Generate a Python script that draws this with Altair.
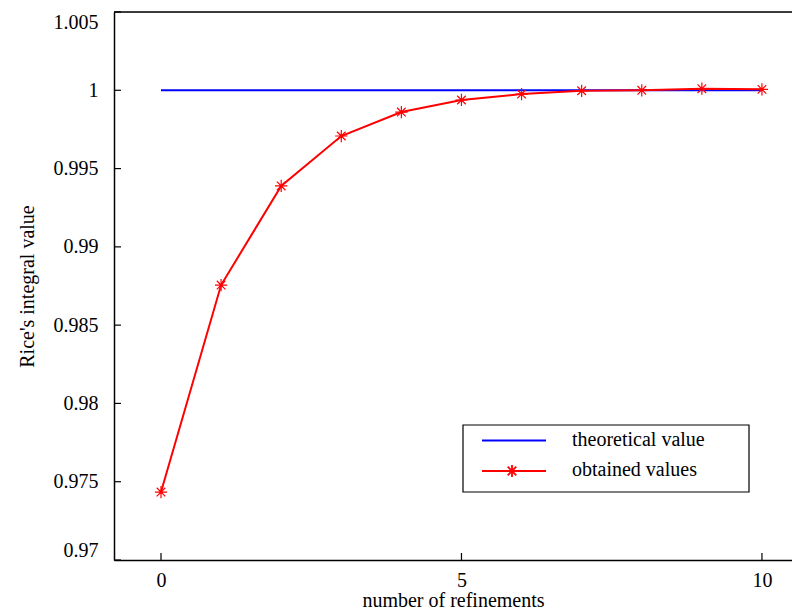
import altair as alt
import pandas as pd

# data
refinements = [0, 1, 2, 3, 4, 5, 6, 7, 8, 9, 10]
obtained = [0.97434, 0.98756, 0.99389, 0.99708, 0.99861, 0.99938, 0.99976, 0.99997, 1.00000, 1.00010, 1.00006]
theoretical = [1.0] * len(refinements)
series_names = ["theoretical value", "obtained values"]
x_ticks = [0, 5, 10]
y_ticks = [0.97, 0.975, 0.98, 0.985, 0.99, 0.995, 1.0, 1.005]

FONT = "Liberation Serif"
W, H = 678, 548
XDOM = [-0.782, 10.5]
YDOM = [0.97, 1.005]

df_obt = pd.DataFrame({"n": refinements, "v": obtained})
df_the = pd.DataFrame({"n": refinements, "v": theoretical})
df_xt = pd.DataFrame({"t": x_ticks})
df_yt = pd.DataFrame({"t": y_ticks})

STAR = "M-1,0L1,0M0,-1L0,1M-0.7,-0.7L0.7,0.7M-0.7,0.7L0.7,-0.7"

xs = alt.Scale(domain=XDOM, nice=False, zero=False)
ys = alt.Scale(domain=YDOM, nice=False, zero=False)

x_axis = alt.Axis(values=x_ticks, format="~g", tickSize=0, labelPadding=10,
                  labelFlush=False, domainColor="black",
                  domainWidth=1.5, grid=False, titlePadding=0, labelFont=FONT,
                  titleFont=FONT, labelFontSize=20, titleFontSize=20,
                  titleFontWeight="normal", labelColor="black", titleColor="black")
y_axis = alt.Axis(values=y_ticks, format="~g", tickSize=0, labelPadding=16,
                  labelFlush=True, domainColor="black", domainWidth=1.5, grid=False,
                  titlePadding=16, labelFont=FONT, titleFont=FONT, labelFontSize=20,
                  titleFontSize=20, titleFontWeight="normal", labelColor="black",
                  titleColor="black")

theo = alt.Chart(df_the).mark_line(color="#0000ff", strokeWidth=2).encode(
    x=alt.X("n:Q", scale=xs, axis=x_axis, title="number of refinements"),
    y=alt.Y("v:Q", scale=ys, axis=y_axis, title="Rice's integral value"),
)

top_border = alt.Chart(pd.DataFrame({"a": [0]})).mark_rule(
    color="black", strokeWidth=1.5).encode(
    x=alt.value(0), x2=alt.value(W), y=alt.value(0))

obt_line = alt.Chart(df_obt).mark_line(color="#ff0000", strokeWidth=2).encode(
    x=alt.X("n:Q", scale=xs), y=alt.Y("v:Q", scale=ys)
)
obt_pts = alt.Chart(df_obt).mark_point(shape=STAR, size=150, filled=False,
                                        color="#ff0000", strokeWidth=1.2,
                                        opacity=1).encode(
    x=alt.X("n:Q", scale=xs), y=alt.Y("v:Q", scale=ys)
)

# inward ticks
xticks = alt.Chart(df_xt).mark_rule(color="black", strokeWidth=1.2).encode(
    x=alt.X("t:Q", scale=xs), y=alt.value(H), y2=alt.value(H - 7)
)
yticks = alt.Chart(df_yt).mark_rule(color="black", strokeWidth=1.2).encode(
    y=alt.Y("t:Q", scale=ys), x=alt.value(0), x2=alt.value(7)
)

# legend
leg_df = pd.DataFrame({"name": series_names, "col": ["#0000ff", "#ff0000"],
                       "yy": [428.5, 459.0], "ty": [428.0, 457.5]})
LX0, LX1 = 349, 635
box = alt.Chart(pd.DataFrame({"a": [0]})).mark_rect(
    fill="white", stroke="black", strokeWidth=1.2).encode(
    x=alt.value(LX0), x2=alt.value(LX1), y=alt.value(413), y2=alt.value(480))
leg_lines = alt.Chart(leg_df).mark_rule(strokeWidth=2).encode(
    x=alt.value(368), x2=alt.value(432), y=alt.Y("yy:Q", scale=None),
    color=alt.Color("col:N", scale=None))
leg_star = alt.Chart(leg_df.iloc[[1]]).mark_point(
    shape=STAR, size=150, filled=False, color="#ff0000", strokeWidth=1.8, opacity=1).encode(
    x=alt.value(398), y=alt.Y("yy:Q", scale=None))
leg_text = alt.Chart(leg_df).mark_text(
    align="left", baseline="middle", font=FONT, fontSize=20, color="black").encode(
    x=alt.value(458), y=alt.Y("ty:Q", scale=None), text="name:N")

chart = alt.layer(
    theo, top_border, obt_line, obt_pts, xticks, yticks,
    box, leg_lines, leg_star, leg_text
).properties(
    width=W, height=H,
    autosize=alt.AutoSizeParams(type="none"),
    padding={"left": 106, "top": 4, "right": 0, "bottom": 47},
).configure_view(stroke=None).configure(background="white")

chart.save("out.html", embed_options={"renderer": "svg", "actions": False})
